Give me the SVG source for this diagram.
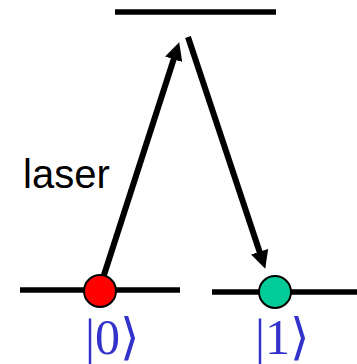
<svg xmlns="http://www.w3.org/2000/svg" width="357" height="364" viewBox="0 0 357 364">
<style>
.lvl{stroke:#000;stroke-width:5.5;fill:none}
.arr{stroke:#000;stroke-width:6;fill:none}
.ket{font-family:"Liberation Serif","DejaVu Serif",serif;font-size:50px;fill:#3333cc}
.lbl{font-family:"Liberation Sans",Arial,sans-serif;font-size:40px;fill:#000}
</style>
<defs>
<marker id="ah" markerWidth="3" markerHeight="3" refX="1.8" refY="1.5" orient="auto" markerUnits="strokeWidth">
<path d="M0,0 L3,1.5 L0,3 Z" fill="#000"/>
</marker>
</defs>
<g id="level-top"><line class="lvl" x1="115" y1="12" x2="276" y2="12"/></g>
<g id="level-0"><line class="lvl" x1="20" y1="290" x2="180" y2="290"/></g>
<g id="level-1"><line class="lvl" x1="212" y1="292" x2="357" y2="292"/></g>
<g id="connectors">
<line class="arr" x1="103" y1="278" x2="177" y2="49" marker-end="url(#ah)"/>
<line class="arr" x1="188" y1="37" x2="263" y2="262" marker-end="url(#ah)"/>
</g>
<g id="state-0">
<circle cx="100" cy="291" r="16" fill="#ff0000" stroke="#000" stroke-width="2"/>
<text class="ket" x="85" y="354">|0⟩</text>
</g>
<g id="state-1">
<circle cx="275" cy="292" r="16" fill="#00cc99" stroke="#000" stroke-width="2"/>
<text class="ket" x="255" y="354">|1⟩</text>
</g>
<g id="laser-label"><text class="lbl" x="23" y="188">laser</text></g>
</svg>
